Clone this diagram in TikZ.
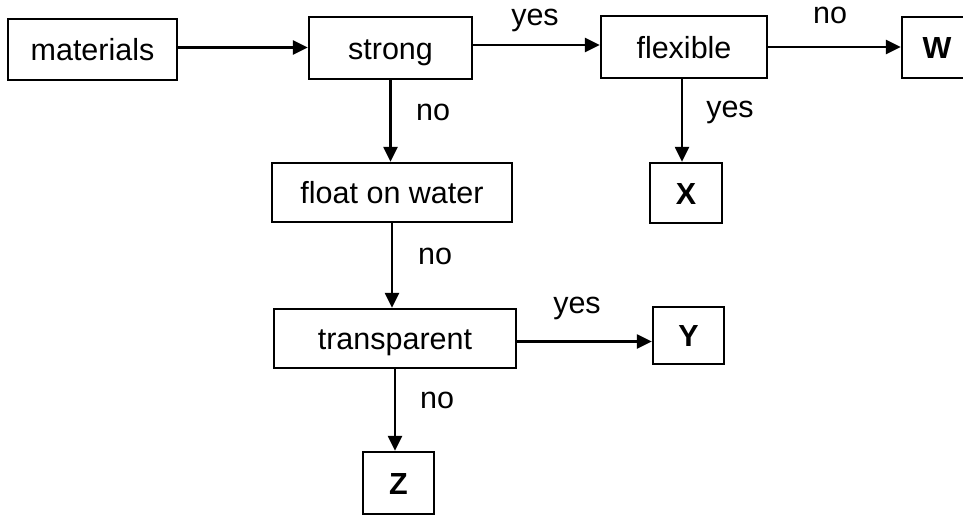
\documentclass[tikz,border=0pt]{standalone}
\usepackage{fontspec}
\setmainfont{Liberation Sans}
\usetikzlibrary{arrows.meta}
\begin{document}
\begin{tikzpicture}[x=1pt,y=-1pt,
  box/.style={draw=black,line width=2.3pt,rectangle,inner sep=0pt,text height=22pt,text depth=0pt,font=\fontsize{30.5}{36}\selectfont},
  leaf/.style={box,font=\fontsize{30.5}{36}\selectfont\bfseries},
  lbl/.style={inner sep=0pt,font=\fontsize{30.5}{36}\selectfont},
  arr/.style={line width=2.3pt,-{Triangle[length=15pt,width=14pt]}}]
\useasboundingbox (0,0) rectangle (963,517);
\node[box,minimum width=169pt,minimum height=61pt] (materials) at (92.5,49.5) {materials};
\node[box,minimum width=163pt,minimum height=62pt] (strong) at (390.5,48) {strong};
\node[box,minimum width=166pt,minimum height=62pt] (flexible) at (684,47) {flexible};
\node[leaf,minimum width=70pt,minimum height=61pt] (W) at (937,47.5) {W};
\node[box,minimum width=240pt,minimum height=59pt] (float) at (392,192.5) {float on water};
\node[leaf,minimum width=72pt,minimum height=60pt] (X) at (686,193) {X};
\node[box,minimum width=242pt,minimum height=59pt] (transparent) at (395,338.5) {transparent};
\node[leaf,minimum width=71pt,minimum height=57pt] (Y) at (688.5,335.5) {Y};
\node[leaf,minimum width=71pt,minimum height=62pt] (Z) at (398.5,483) {Z};

\draw[arr] ([yshift=2pt]materials.east) -- ([yshift=2pt]materials.east -| strong.west);
\draw[arr] ([yshift=3pt]strong.east) -- ([yshift=3pt]strong.east -| flexible.west);
\draw[arr] (flexible.east) -- (flexible.east -| W.west);
\draw[arr] (strong.south) -- (strong.south |- float.north);
\draw[arr] ([xshift=-2pt]flexible.south) -- ([xshift=-2pt]flexible.south |- X.north);
\draw[arr] (float.south) -- (float.south |- transparent.north);
\draw[arr] ([yshift=-3pt]transparent.east) -- ([yshift=-3pt]transparent.east -| Y.west);
\draw[arr] (transparent.south) -- (transparent.south |- Z.north);

\node[lbl] (l1) at (535,20) {yes};
\node[lbl] (l2) at (433,112) {no};
\node[lbl] (l3) at (830,15) {no};
\node[lbl] (l4) at (730,112) {yes};
\node[lbl] (l5) at (435,256) {no};
\node[lbl] (l6) at (577,308) {yes};
\node[lbl] (l7) at (437,400) {no};
\end{tikzpicture}
\end{document}
